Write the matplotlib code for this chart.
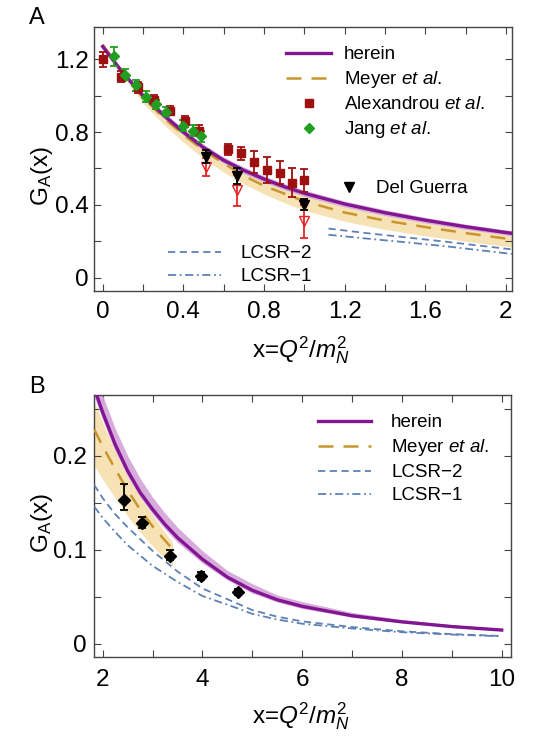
import matplotlib
matplotlib.use('Agg')
import matplotlib.pyplot as plt
from matplotlib.ticker import MultipleLocator, FuncFormatter
from matplotlib.lines import Line2D

plt.rcParams.update({
    'font.family': ['Liberation Sans', 'DejaVu Sans'],
    'mathtext.fontset': 'custom',
    'mathtext.rm': 'Liberation Sans',
    'mathtext.it': 'Liberation Sans:italic',
    'mathtext.bf': 'Liberation Sans:bold',
})

# ---------------- Panel A data ----------------
hx_A = [0, 0.1, 0.2, 0.3, 0.4, 0.5, 0.6, 0.7, 0.8, 0.9, 1.0, 1.2, 1.4, 1.6, 1.8, 2.0, 2.05]
hy_A = [1.27, 1.125, 1.0, 0.895, 0.80, 0.715, 0.645, 0.59, 0.542, 0.50, 0.464, 0.405, 0.357, 0.316, 0.28, 0.248, 0.241]
hlo_A = [1.26, 1.11, 0.985, 0.878, 0.783, 0.698, 0.628, 0.572, 0.525, 0.483, 0.447, 0.389, 0.341, 0.301, 0.266, 0.235, 0.228]
hhi_A = [1.28, 1.14, 1.017, 0.913, 0.818, 0.733, 0.663, 0.608, 0.559, 0.517, 0.481, 0.421, 0.373, 0.331, 0.294, 0.262, 0.255]

my_A = [1.28, 1.125, 0.99, 0.88, 0.785, 0.70, 0.628, 0.56, 0.505, 0.462, 0.42, 0.358, 0.314, 0.278, 0.245, 0.215, 0.209]
mlo_A = [1.27, 1.105, 0.96, 0.845, 0.745, 0.655, 0.58, 0.515, 0.46, 0.412, 0.37, 0.31, 0.265, 0.23, 0.20, 0.172, 0.166]
mhi_A = [1.29, 1.14, 1.01, 0.905, 0.81, 0.728, 0.658, 0.598, 0.548, 0.505, 0.466, 0.39, 0.343, 0.303, 0.268, 0.238, 0.232]

lx_A = [1.12, 1.3, 1.5, 1.7, 1.9, 2.05]
l2_A = [0.270, 0.246, 0.222, 0.198, 0.172, 0.153]
l1_A = [0.236, 0.216, 0.195, 0.173, 0.147, 0.128]

alex_x = [0.0, 0.09, 0.175, 0.255, 0.335, 0.41, 0.48, 0.62, 0.685, 0.75, 0.815, 0.88, 0.94, 1.0]
alex_y = [1.20, 1.105, 1.045, 0.978, 0.918, 0.858, 0.808, 0.705, 0.683, 0.637, 0.592, 0.577, 0.522, 0.535]
alex_e = [0.04, 0.03, 0.03, 0.025, 0.025, 0.03, 0.03, 0.032, 0.035, 0.06, 0.07, 0.064, 0.078, 0.064]

jang_x = [0.058, 0.11, 0.163, 0.213, 0.263, 0.315, 0.40, 0.447, 0.49]
jang_y = [1.215, 1.115, 1.057, 0.995, 0.952, 0.912, 0.835, 0.808, 0.777]
jang_e = [0.05, 0.03, 0.03, 0.03, 0.025, 0.025, 0.03, 0.03, 0.03]

dg_x = [0.51, 0.665, 1.0]
dg_y = [0.665, 0.56, 0.40]
dg_e = [0.035, 0.045, 0.03]
dg2_y = [0.61, 0.48, 0.31]
dg2_e = [0.05, 0.085, 0.09]

# ---------------- Panel B data ----------------
hx_B = [1.83, 2.0, 2.25, 2.5, 2.75, 3.0, 3.25, 3.5, 4.0, 4.5, 5.0, 5.5, 6.0, 7.0, 8.0, 9.0, 10.0]
hy_B = [0.272, 0.246, 0.212, 0.184, 0.161, 0.143, 0.127, 0.113, 0.090, 0.071, 0.057, 0.047, 0.040, 0.030, 0.0235, 0.0185, 0.0148]
hhi_B = [0.29, 0.264, 0.229, 0.200, 0.176, 0.156, 0.139, 0.124, 0.099, 0.078, 0.064, 0.052, 0.045, 0.0335, 0.026, 0.0205, 0.0163]
hlo_B = [0.263, 0.238, 0.205, 0.178, 0.156, 0.138, 0.122, 0.108, 0.086, 0.068, 0.054, 0.0445, 0.0378, 0.0285, 0.0225, 0.0177, 0.0142]

mx_B = [1.83, 2.0, 2.25, 2.5, 2.75, 3.0, 3.2, 3.4]
my_B = [0.228, 0.21, 0.186, 0.163, 0.143, 0.125, 0.113, 0.101]
mlo_B = [0.19, 0.175, 0.155, 0.136, 0.119, 0.104, 0.093, 0.083]
mhi_B = [0.258, 0.235, 0.205, 0.178, 0.156, 0.137, 0.122, 0.108]

lx_B = [1.83, 2.0, 2.25, 2.5, 3.0, 3.5, 4.0, 4.7, 5.0, 5.5, 6.0, 7.0, 8.0, 9.0, 10.0]
l2_B = [0.169, 0.155, 0.138, 0.124, 0.099, 0.077, 0.059, 0.043, 0.036, 0.029, 0.024, 0.018, 0.0135, 0.0105, 0.0085]
l1_B = [0.146, 0.134, 0.119, 0.105, 0.083, 0.066, 0.051, 0.038, 0.032, 0.026, 0.0215, 0.0165, 0.0125, 0.010, 0.0082]

bx = [2.42, 2.78, 3.34, 3.97, 4.72]
by = [0.153, 0.128, 0.094, 0.072, 0.0555]
be_lo = [0.011, 0.005, 0.005, 0.004, 0.003]
be_hi = [0.017, 0.007, 0.006, 0.004, 0.003]

# ---------------- styles ----------------
PURPLE = '#821591'
PURPLE_BAND = '#D4A2DA'
GOLD = '#C8962E'
GOLD_BAND = '#F6E2B4'
BLUE = '#5E81B5'
DRED = '#9E1010'
GREEN = '#1F9E1F'
RED = '#E82222'
FRAME = '#444444'
TICKFS = 17.5
LEGFS = 13.5
MEYER_LS = (0, (6, 4))
LCSR2_LS = (0, (4, 2.5))
LCSR1_LS = (0, (4.5, 2, 1, 2))

W, H = 533, 736
fig = plt.figure(figsize=(W / 100, H / 100), dpi=100)
fig.patch.set_facecolor('white')

axA = fig.add_axes([94 / W, 1 - 291 / H, (512 - 94) / W, (291 - 27) / H])
axB = fig.add_axes([94 / W, 1 - 656.7 / H, (510.7 - 94) / W, (656.7 - 395) / H])


def style_axes(ax, xmaj, xmin, ymaj, ymin, xpad, ypad):
    ax.xaxis.set_major_locator(MultipleLocator(xmaj))
    ax.xaxis.set_minor_locator(MultipleLocator(xmin))
    ax.yaxis.set_major_locator(MultipleLocator(ymaj))
    ax.yaxis.set_minor_locator(MultipleLocator(ymin))
    fmt = FuncFormatter(lambda v, p: ('%g' % round(v, 6)))
    ax.xaxis.set_major_formatter(fmt)
    ax.yaxis.set_major_formatter(fmt)
    ax.tick_params(which='both', direction='in', top=True, right=True,
                   length=5, width=0.8, color=FRAME, labelsize=TICKFS)
    ax.tick_params(axis='x', pad=xpad)
    ax.tick_params(axis='y', pad=ypad)
    for s in ax.spines.values():
        s.set_color(FRAME)
        s.set_linewidth(1.0)


# ---------------- Panel A ----------------
axA.fill_between(hx_A, mlo_A, mhi_A, color=GOLD_BAND, lw=0, zorder=1)
axA.fill_between(hx_A, hlo_A, hhi_A, color=PURPLE_BAND, lw=0, alpha=0.9, zorder=2)
lmA, = axA.plot(hx_A, my_A, color=GOLD, lw=1.8, ls=MEYER_LS, zorder=3)
lhA, = axA.plot(hx_A, hy_A, color=PURPLE, lw=2.4, zorder=4)
l2A, = axA.plot(lx_A, l2_A, color=BLUE, lw=1.3, ls=LCSR2_LS, zorder=3)
l1A, = axA.plot(lx_A, l1_A, color=BLUE, lw=1.3, ls=LCSR1_LS, zorder=3)

axA.errorbar(alex_x, alex_y, yerr=alex_e, fmt='s', color=DRED, ms=5.5, capsize=3,
             elinewidth=1.3, capthick=1.3, zorder=6)
axA.errorbar(jang_x, jang_y, yerr=jang_e, fmt='D', color=GREEN, ms=5, capsize=3,
             elinewidth=1.3, capthick=1.3, zorder=6)
axA.errorbar(dg_x, dg2_y, yerr=dg2_e, fmt='v', mfc='none', mec=RED, color=RED, ms=7,
             capsize=3, elinewidth=1.3, capthick=1.3, zorder=6)
axA.errorbar(dg_x, dg_y, yerr=dg_e, fmt='v', color='black', ms=7, capsize=3,
             elinewidth=1.3, capthick=1.3, zorder=7)

axA.set_xlim(-0.043, 2.03)
axA.set_ylim(-0.073, 1.377)
style_axes(axA, 0.4, 0.2, 0.4, 0.2, 7.5, 4)

p_alex = Line2D([], [], marker='s', ls='none', color=DRED, ms=5.5)
p_jang = Line2D([], [], marker='D', ls='none', color=GREEN, ms=5)
p_dg = Line2D([], [], marker='v', ls='none', color='black', ms=7)

legA1 = axA.legend([lhA, lmA, p_alex, p_jang],
                   ['herein', r'Meyer $\mathit{et\ al.}$', r'Alexandrou $\mathit{et\ al.}$', r'Jang $\mathit{et\ al.}$'],
                   loc='upper left', bbox_to_anchor=(286 / W, 1 - 46 / H), bbox_transform=fig.transFigure,
                   frameon=False, fontsize=LEGFS, handlelength=2.4, handletextpad=0.7,
                   labelspacing=0.32, borderpad=0, borderaxespad=0)
axA.add_artist(legA1)
legA2 = axA.legend([p_dg], ['Del Guerra'], loc='upper left',
                   bbox_to_anchor=(340 / W, 1 - 180 / H), bbox_transform=fig.transFigure,
                   frameon=False, fontsize=LEGFS, handlelength=1.0, handletextpad=0.9,
                   borderpad=0, borderaxespad=0)
axA.add_artist(legA2)
legA3 = axA.legend([l2A, l1A], ['LCSR\u22122', 'LCSR\u22121'], loc='upper left',
                   bbox_to_anchor=(168 / W, 1 - 245 / H), bbox_transform=fig.transFigure,
                   frameon=False, fontsize=LEGFS, handlelength=2.8, handletextpad=1.05,
                   labelspacing=0.32, borderpad=0, borderaxespad=0)

# ---------------- Panel B ----------------
axB.fill_between(mx_B, mlo_B, mhi_B, color=GOLD_BAND, lw=0, zorder=1)
axB.fill_between(hx_B, hlo_B, hhi_B, color=PURPLE_BAND, lw=0, alpha=0.9, zorder=2)
lmB, = axB.plot(mx_B, my_B, color=GOLD, lw=1.8, ls=MEYER_LS, zorder=3)
lhB, = axB.plot(hx_B, hy_B, color=PURPLE, lw=2.4, zorder=4)
l2B, = axB.plot(lx_B, l2_B, color=BLUE, lw=1.3, ls=LCSR2_LS, zorder=3)
l1B, = axB.plot(lx_B, l1_B, color=BLUE, lw=1.3, ls=LCSR1_LS, zorder=3)
axB.errorbar(bx, by, yerr=[be_lo, be_hi], fmt='D', color='black', ms=6.5, capsize=3,
             elinewidth=1.3, capthick=1.3, zorder=6)

axB.set_xlim(1.826, 10.18)
axB.set_ylim(-0.0135, 0.2645)
style_axes(axB, 2, 1, 0.1, 0.05, 9, 5)

legB = axB.legend([lhB, lmB, l2B, l1B],
                  ['herein', r'Meyer $\mathit{et\ al.}$', 'LCSR\u22122', 'LCSR\u22121'],
                  loc='upper left', bbox_to_anchor=(318 / W, 1 - 414 / H), bbox_transform=fig.transFigure,
                  frameon=False, fontsize=LEGFS, handlelength=2.85, handletextpad=1.05,
                  labelspacing=0.32, borderpad=0, borderaxespad=0)

# ---------------- labels ----------------
for ax, yc, xc in [(axA, 176, 350), (axB, 523, 716.5)]:
    fig.text(42 / W, 1 - yc / H, r'G$_\mathrm{A}$(x)', rotation=90, ha='center', va='center', fontsize=TICKFS)
    fig.text(301 / W, 1 - xc / H, r'x=$Q^2/m_N^2$', ha='center', va='center', fontsize=TICKFS)

fig.text(37 / W, 1 - 18 / H, 'A', ha='center', va='center', fontsize=17)
fig.text(37 / W, 1 - 387 / H, 'B', ha='center', va='center', fontsize=17)

fig.savefig('out.png', dpi=100)
